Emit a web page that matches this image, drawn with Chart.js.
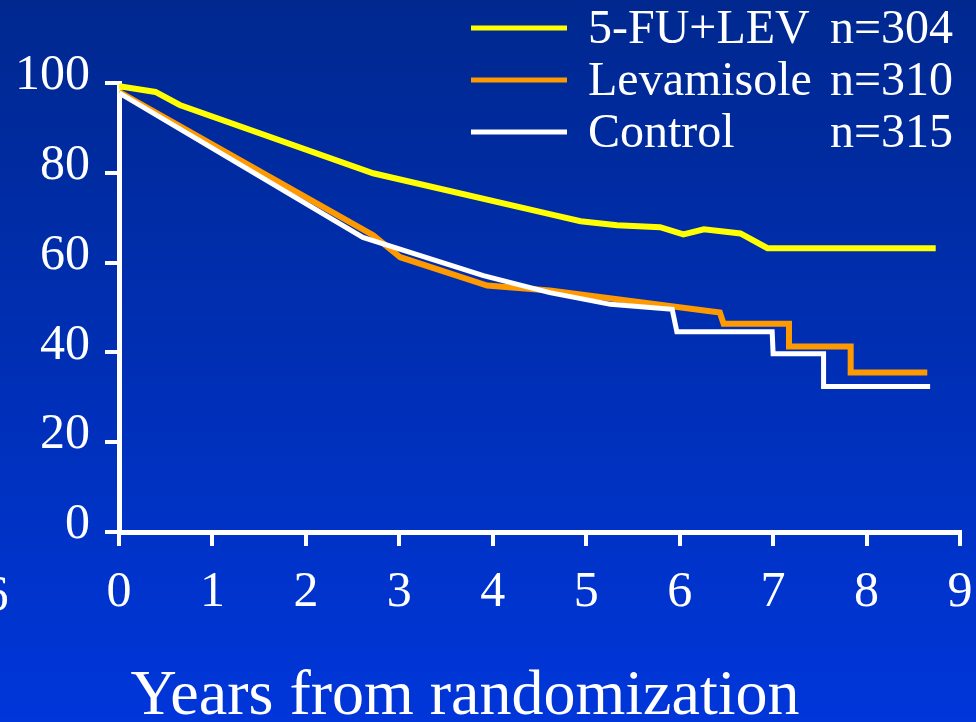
<!DOCTYPE html>
<html>
<head>
<meta charset="utf-8">
<script src="https://cdn.jsdelivr.net/npm/chart.js@4/dist/chart.umd.min.js"></script>
<style>
html,body{margin:0;padding:0;background:#0030b8;}
#wrap{width:976px;height:722px;}
</style>
</head>
<body>
<div id="wrap"><canvas id="c" width="976" height="722"></canvas></div>
<script>
// ---- Data ----
const seriesNames = ["5-FU+LEV", "Levamisole", "Control"];
const seriesCounts = ["n=304", "n=310", "n=315"];

const fuLevYears    = [0, 0.39, 0.65, 2.72, 4.61, 4.94, 5.33, 5.79, 6.04, 6.26, 6.65, 6.94, 8.74];
const fuLevSurvival = [99.3, 98.0, 95.1, 79.9, 70.8, 69.2, 68.3, 67.9, 66.3, 67.4, 66.5, 63.2, 63.2];

const levYears    = [0, 2.72, 3.01, 3.94, 4.61, 6.43, 6.47, 7.17, 7.17, 7.83, 7.83, 8.65];
const levSurvival = [98.0, 66.1, 61.2, 54.9, 53.8, 48.9, 46.4, 46.4, 41.3, 41.3, 35.5, 35.5];

const ctrlYears    = [0, 2.61, 3.90, 4.61, 5.26, 5.92, 5.97, 6.99, 7.00, 7.54, 7.54, 8.68];
const ctrlSurvival = [97.8, 65.6, 57.1, 53.3, 50.7, 49.6, 44.6, 44.6, 39.7, 39.7, 32.4, 32.4];

const xTickValues = [0, 1, 2, 3, 4, 5, 6, 7, 8, 9];
const yTickValues = [0, 20, 40, 60, 80, 100];
const xAxisTitle = "Years from randomization";
const strayLabel = "6";

// ---- Build ----
const toPoints = (xs, ys) => xs.map((x, i) => ({x: x, y: ys[i]}));
const colors = ["#ffff00", "#ff9900", "#ffffff"];
const SERIF = '"Liberation Serif", "Times New Roman", Times, serif';

const bgPlugin = {
  id: 'bg',
  beforeDraw(chart) {
    const ctx = chart.ctx;
    const g = ctx.createLinearGradient(0, 0, 0, chart.height);
    g.addColorStop(0, '#00288f');
    g.addColorStop(1, '#0036da');
    ctx.save();
    ctx.fillStyle = g;
    ctx.fillRect(0, 0, chart.width, chart.height);
    ctx.restore();
  }
};

const textPlugin = {
  id: 'texts',
  afterDraw(chart) {
    const ctx = chart.ctx;
    ctx.save();
    // legend
    ctx.font = '48px ' + SERIF;
    ctx.textBaseline = 'alphabetic';
    for (let i = 0; i < seriesNames.length; i++) {
      const base = 43 + i * 52;
      ctx.strokeStyle = colors[i];
      ctx.lineWidth = 5;
      ctx.beginPath();
      ctx.moveTo(471, base - 15);
      ctx.lineTo(567, base - 15);
      ctx.stroke();
      ctx.fillStyle = '#ffffff';
      ctx.textAlign = 'left';
      ctx.fillText(seriesNames[i], 588, base);
      ctx.textAlign = 'right';
      ctx.fillText(seriesCounts[i], 953, base);
    }
    // axis title
    ctx.font = '64px ' + SERIF;
    ctx.textAlign = 'center';
    ctx.fillText(xAxisTitle, 465, 714);
    // stray clipped label at far left
    ctx.font = '50px ' + SERIF;
    ctx.fillText(strayLabel, -4, 610);
    ctx.restore();
  }
};

new Chart(document.getElementById('c'), {
  type: 'line',
  data: {
    datasets: [
      {label: seriesNames[0], data: toPoints(fuLevYears, fuLevSurvival), borderColor: colors[0], borderWidth: 6, order: 0},
      {label: seriesNames[1], data: toPoints(levYears, levSurvival), borderColor: colors[1], borderWidth: 6, order: 2},
      {label: seriesNames[2], data: toPoints(ctrlYears, ctrlSurvival), borderColor: colors[2], borderWidth: 5, order: 1}
    ]
  },
  options: {
    responsive: false,
    animation: false,
    elements: {
      point: {radius: 0, hoverRadius: 0},
      line: {tension: 0, fill: false, borderJoinStyle: 'miter'}
    },
    layout: {padding: {top: 83, right: 16, left: 0, bottom: 0}},
    plugins: {legend: {display: false}, tooltip: {enabled: false}},
    scales: {
      x: {
        type: 'linear',
        min: 0, max: 9,
        afterBuildTicks(s) { s.ticks = xTickValues.map(v => ({value: v})); },
        afterFit(s) { s.height = 190; s.paddingRight = 0; s.paddingLeft = 0; },
        ticks: {color: '#ffffff', font: {family: SERIF, size: 50}, padding: 17, maxRotation: 0, autoSkip: false},
        grid: {display: true, drawOnChartArea: false, drawTicks: true, tickLength: 14, color: '#ffffff', lineWidth: 4},
        border: {display: true, color: '#ffffff', width: 5}
      },
      y: {
        type: 'linear',
        min: 0, max: 100,
        afterBuildTicks(s) { s.ticks = yTickValues.map(v => ({value: v})); },
        afterFit(s) { s.width = 119; s.paddingTop = 0; s.paddingBottom = 0; },
        ticks: {color: '#ffffff', font: {family: SERIF, size: 50}, padding: 15, labelOffset: -7, autoSkip: false},
        grid: {display: true, drawOnChartArea: false, drawTicks: true, tickLength: 14, color: '#ffffff', lineWidth: 4},
        border: {display: true, color: '#ffffff', width: 5}
      }
    }
  },
  plugins: [bgPlugin, textPlugin]
});
</script>
</body>
</html>
